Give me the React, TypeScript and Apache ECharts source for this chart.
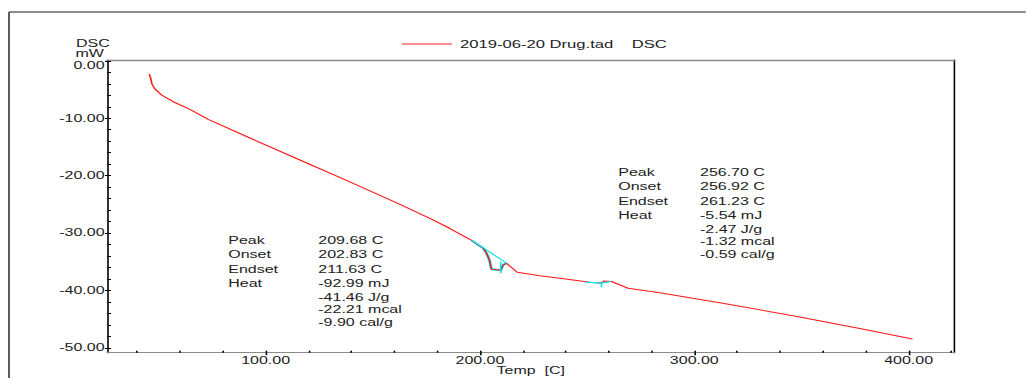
import React, { useEffect, useRef } from "react";
import * as echarts from "echarts";

// horizontal stretch of the reference picture
const S = 1.6;
const W = 1026 / S;
const H = 378;
const FONT = "Liberation Sans";

// main DSC curve (Temp C, mW)
const tempC = [45.7, 46.4, 47.0, 48.4, 51.5, 56.9, 64.7, 73.2, 92.7, 116.0, 139.3, 162.7, 178.1, 186.0, 196.1, 201.5, 203.1, 204.4, 205.4, 209.0, 209.7, 210.8, 212.4, 217.4, 228.0, 237.3, 251.3, 256.4, 258.0, 261.4, 269.1, 283.9, 311.9, 349.2, 377.2, 401.8];
const dscMW = [-2.29, -3.04, -4.06, -4.93, -5.95, -7.12, -8.44, -10.18, -13.44, -17.27, -21.1, -25.02, -27.72, -29.21, -31.3, -32.65, -33.53, -34.69, -36.31, -36.44, -36.52, -35.56, -35.27, -36.84, -37.43, -37.88, -38.58, -38.7, -38.35, -38.44, -39.62, -40.39, -42.13, -44.62, -46.63, -48.46];

// analysis lines (cyan)
const base1T = [196.1, 212.4];
const base1V = [-31.21, -35.27];
const spike1T = [209.68, 209.68];
const spike1V = [-35.0, -36.95];
const base2T = [249.0, 256.7, 261.2];
const base2V = [-38.55, -38.72, -38.45];
const spike2T = [256.7, 256.7];
const spike2V = [-38.6, -39.45];
const dipRange = [196.1, 212.4];

// axis ticks & labels
const xLabelValues = [100, 200, 300, 400];
const xTickValues = [40, 60, 80, 100, 120, 140, 160, 180, 200, 220, 240, 260, 280, 300, 320, 340, 360, 380, 400, 420];
const yLabelValues = [0, -10, -20, -30, -40, -50];
const yTickValues = [0, -2, -4, -6, -8, -10, -12, -14, -16, -18, -20, -22, -24, -26, -28, -30, -32, -34, -36, -38, -40, -42, -44, -46, -48, -50];

const seriesName = "2019-06-20 Drug.tad    DSC";

// annotation texts
const keyLabels = ["Peak", "Onset", "Endset", "Heat"];
const peak1Values = ["209.68 C", "202.83 C", "211.63 C", "-92.99 mJ", "-41.46 J/g", "-22.21 mcal", "-9.90 cal/g"];
const peak2Values = ["256.70 C", "256.92 C", "261.23 C", "-5.54 mJ", "-2.47 J/g", "-1.32 mcal", "-0.59 cal/g"];
const rowOffsets = [0, 14.4, 29, 43, 57.4, 69.4, 81.8];

const zip = (a: number[], b: number[]) => a.map((v, i) => [v, b[i]]);

function textEl(text: string, xRef: number, y: number) {
  return {
    type: "text",
    x: xRef / S,
    y,
    silent: true,
    style: { text, fill: "#222", font: `10px "${FONT}"`, align: "left", verticalAlign: "middle" },
  };
}

function block(values: string[], keyX: number, valX: number, baseY: number) {
  const els: any[] = [];
  keyLabels.forEach((k, i) => els.push(textEl(k, keyX, baseY + rowOffsets[i])));
  values.forEach((v, i) => els.push(textEl(v, valX, baseY + rowOffsets[i])));
  return els;
}

export default function App() {
  const ref = useRef<HTMLDivElement>(null);
  useEffect(() => {
    if (!ref.current) return;
    const chart = echarts.init(ref.current, null, { renderer: "svg" });
    const curve = zip(tempC, dscMW);
    const dip = curve.filter((p) => p[0] >= dipRange[0] && p[0] <= dipRange[1]);
    const cyan = "#00e5f0";
    const lineSeries = (name: string, data: number[][], color: string, width: number, z: number) => ({
      type: "line",
      name,
      data,
      showSymbol: false,
      symbol: "none",
      lineStyle: { color, width },
      itemStyle: { color },
      z,
      silent: true,
    });
    chart.setOption({
      animation: false,
      backgroundColor: "#fff",
      textStyle: { fontFamily: FONT },
      grid: {
        left: 107 / S,
        right: W - 955 / S,
        top: 60,
        bottom: H - 352.7,
        containLabel: false,
        outerBoundsMode: "none",
      },
      legend: {
        data: [{ name: seriesName, icon: "rect" }],
        left: 246.2,
        top: 34,
        itemWidth: 31.25,
        itemHeight: 1,
        textStyle: { fontSize: 10.4, color: "#222", fontFamily: FONT },
        selectedMode: false,
      },
      xAxis: [
        {
          type: "value",
          min: 26,
          max: 421.45,
          position: "bottom",
          axisLine: { onZero: false, lineStyle: { color: "#8a8a8a", width: 1 } },
          axisTick: { show: true, inside: true, length: 2, customValues: xTickValues, lineStyle: { color: "#000" } },
          axisLabel: {
            customValues: xLabelValues,
            formatter: (v: number) => v.toFixed(2),
            fontSize: 10,
            color: "#222",
            fontFamily: FONT,
            margin: 3,
          },
          splitLine: { show: false },
          name: "Temp  [C]",
          nameLocation: "middle",
          nameGap: 12,
          nameMoveOverlap: false,
          nameTextStyle: { fontSize: 10, color: "#222", fontFamily: FONT, lineHeight: 11 },
        },
        {
          type: "value",
          min: 26,
          max: 421.45,
          position: "bottom",
          axisLine: { show: false, onZero: false },
          axisTick: { show: true, inside: false, length: 2.5, customValues: xLabelValues, lineStyle: { color: "#000" } },
          axisLabel: { show: false },
          splitLine: { show: false },
        },
        {
          type: "value",
          min: 26,
          max: 421.45,
          position: "top",
          axisLine: { show: true, onZero: false, lineStyle: { color: "#8a8a8a", width: 1.3 } },
          axisTick: { show: false },
          axisLabel: { show: false },
          splitLine: { show: false },
        },
      ],
      yAxis: [
        {
          type: "value",
          min: -50.85,
          max: 0.15,
          position: "left",
          axisLine: { show: true, onZero: false, lineStyle: { color: "#000", width: 1 } },
          axisTick: { show: true, inside: true, length: 2.5, customValues: yTickValues, lineStyle: { color: "#000" } },
          axisLabel: {
            customValues: yLabelValues,
            formatter: (v: number) => (v === 0 ? "{t|0.00}" : v.toFixed(2)),
            fontSize: 10,
            color: "#222",
            fontFamily: FONT,
            margin: 1.5,
            rich: { t: { fontSize: 10, color: "#222", fontFamily: FONT, padding: [9, 0, 0, 0] } },
          },
          splitLine: { show: false },
        },
        {
          type: "value",
          min: -50.85,
          max: 0.15,
          position: "left",
          axisLine: { show: false, onZero: false },
          axisTick: { show: true, inside: false, length: 1.3, customValues: yLabelValues, lineStyle: { color: "#000" } },
          axisLabel: { show: false },
          splitLine: { show: false },
        },
        {
          type: "value",
          min: -50.85,
          max: 0.15,
          position: "right",
          axisLine: { show: true, onZero: false, lineStyle: { color: "#000", width: 1 } },
          axisTick: { show: false },
          axisLabel: { show: false },
          splitLine: { show: false },
        },
      ],
      series: [
        lineSeries("dip", dip, cyan, 1.8, 1),
        lineSeries(seriesName, curve, "#ff1a1a", 1, 2),
        lineSeries("base1", zip(base1T, base1V), cyan, 1, 3),
        lineSeries("spike1", zip(spike1T, spike1V), cyan, 1, 3),
        lineSeries("base2", zip(base2T, base2V), cyan, 1.2, 3),
        lineSeries("spike2", zip(spike2T, spike2V), cyan, 1, 3),
      ],
      graphic: [
        { type: "line", silent: true, shape: { x1: 9 / S, y1: 12, x2: 9 / S, y2: H }, style: { stroke: "#555", lineWidth: 1.2 } },
        { type: "line", silent: true, shape: { x1: 9 / S, y1: 12, x2: W, y2: 12 }, style: { stroke: "#666", lineWidth: 1.3 } },
        textEl("DSC", 76, 43.5),
        textEl("mW", 75.5, 53.5),
        ...block(peak1Values, 228.3, 318.3, 240.7),
        ...block(peak2Values, 618.3, 700, 172.5),
      ],
    });
    return () => chart.dispose();
  }, []);
  return (
    <div style={{ position: "fixed", left: 0, top: 0, width: 1026, height: H, overflow: "hidden", background: "#fff" }}>
      <div
        ref={ref}
        style={{ width: W, height: H, transform: `scaleX(${S})`, transformOrigin: "0 0" }}
      />
    </div>
  );
}
